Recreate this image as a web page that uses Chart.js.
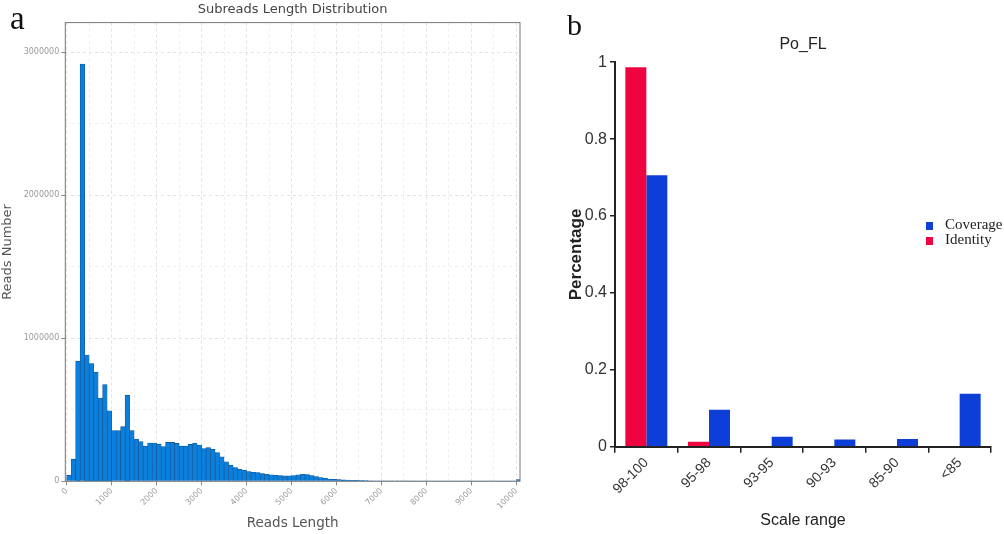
<!DOCTYPE html>
<html>
<head>
<meta charset="utf-8">
<title>Subreads length / Po_FL</title>
<script src="https://cdn.jsdelivr.net/npm/chart.js@4.4.1/dist/chart.umd.min.js"></script>
<style>
    html, body { margin: 0; padding: 0; background: #fff; }
    #page { position: relative; width: 1004px; height: 534px; overflow: hidden; }
    canvas { position: absolute; top: 0; }
    #lengthChart { left: 0; }
    #scaleChart { left: 540px; }
    .tag { position: absolute; font-family: 'Liberation Serif', 'DejaVu Serif', serif; line-height: 1; color: #111; }
    .legend-row { position: absolute; font-family: 'Liberation Serif', serif; font-size: 15px; line-height: 15px; color: #222; white-space: nowrap; }
    .legend-row span { display: inline-block; width: 7px; height: 8px; margin-right: 12px; vertical-align: -1px; }
</style>
</head>
<body>
<div id="page">
    <canvas id="lengthChart" width="540" height="534"></canvas>
    <canvas id="scaleChart" width="464" height="534"></canvas>
    <div class="tag" style="left:10px; top:2px; font-size:33px;">a</div>
    <div class="tag" style="left:567px; top:10px; font-size:30px;">b</div>
    <div class="legend-row" style="left:926px; top:217px;"><span style="background:#0d3fd8"></span>Coverage</div>
    <div class="legend-row" style="left:926px; top:232px;"><span style="background:#f0043f"></span>Identity</div>
</div>
<script>
// ---- panel a: subreads length histogram (bins of 100 bp) ----
const BIN_WIDTH = 100;
const readCounts = [
    42000, 155000, 840000, 2918000, 883000, 824000, 763000, 582000, 676000, 493000,
    354000, 354000, 383000, 601000, 354000, 296000, 277000, 246000, 268000, 268000,
    260000, 242000, 272000, 272000, 265000, 246000, 246000, 258000, 268000, 254000,
    228000, 235000, 223000, 200000, 171000, 136000, 113000, 96000, 85000, 77000,
    68000, 63000, 61000, 54000, 49000, 45000, 42000, 40000, 38000, 38000,
    40000, 45000, 49000, 47000, 40000, 33000, 26000, 21000, 16000, 14000,
    12000, 10000, 8500, 7000, 6000, 5200, 4500, 4000, 3500, 3000,
    2700, 2400, 2100, 1900, 1700, 1500, 1400, 1300, 1200, 1100,
    1000, 950, 900, 850, 800, 750, 700, 650, 600, 580,
    560, 540, 520, 500, 480, 450, 420, 400, 380, 350,
    12000
];
const lengthTicks = [0, 1000, 2000, 3000, 4000, 5000, 6000, 7000, 8000, 9000, 10000];
const countTicks = [0, 1000000, 2000000, 3000000];

// ---- panel b: Po_FL identity / coverage ----
const scaleRanges = ['98-100', '95-98', '93-95', '90-93', '85-90', '<85'];
const identityShare = [0.987, 0.013, 0, 0, 0, 0];
const coverageShare = [0.706, 0.096, 0.026, 0.019, 0.020, 0.138];
const shareTicks = [0, 0.2, 0.4, 0.6, 0.8, 1];

// major ticks plus the minor (unlabelled) gridline half way between each pair
function withMinor(major, max) {
    const out = [];
    major.forEach((v, i) => {
        out.push({ value: v, major: true });
        const step = i + 1 < major.length ? major[i + 1] - v : v - major[i - 1];
        if (v + step / 2 <= max) out.push({ value: v + step / 2, major: false });
    });
    return out;
}

// grey frame round the plot, like the ggplot panel border
const frameBox = {
    id: 'frameBox',
    afterDatasetsDraw(chart) {
        const { ctx, chartArea: a } = chart;
        ctx.save();
        ctx.strokeStyle = '#777';
        ctx.lineWidth = 1;
        ctx.strokeRect(a.left, a.top, a.right - a.left, a.bottom - a.top);
        ctx.restore();
    }
};

const greyFont = { family: "'DejaVu Sans', sans-serif", size: 8 };
const isMajor = c => c.tick && c.tick.major;

new Chart(document.getElementById('lengthChart'), {
    type: 'bar',
    data: {
        datasets: [{
            label: 'Reads Number',
            data: readCounts.map((c, i) => ({ x: i * BIN_WIDTH + BIN_WIDTH / 2, y: c })),
            backgroundColor: '#0b7fdc',
            borderColor: '#0d4f90',
            borderWidth: 0.6,
            barPercentage: 1,
            categoryPercentage: 1
        }]
    },
    options: {
        responsive: false,
        animation: false,
        layout: { padding: { left: 0, right: 20, top: 0, bottom: 0 } },
        plugins: {
            legend: { display: false },
            tooltip: { enabled: false },
            title: {
                display: true,
                fullSize: false,
                text: 'Subreads Length Distribution',
                color: '#444',
                font: { family: "'DejaVu Sans', sans-serif", size: 13, weight: 'normal' },
                padding: { top: 2, bottom: 5 }
            }
        },
        scales: {
            x: {
                type: 'linear',
                offset: false,
                min: -30,
                max: 10080,
                afterBuildTicks: s => { s.ticks = withMinor(lengthTicks, 10080); },
                afterFit: s => { s.height = 52.7; },
                ticks: {
                    autoSkip: false,
                    maxRotation: 45,
                    minRotation: 45,
                    padding: 1,
                    color: '#9a9a9a',
                    font: greyFont,
                    callback: function (v, i, ticks) { return ticks[i].major ? String(v) : ''; }
                },
                grid: {
                    offset: false,
                    color: c => (isMajor(c) ? '#e2e2e2' : '#efefef'),
                    tickColor: c => (isMajor(c) ? '#888' : 'rgba(0,0,0,0)'),
                    tickLength: 4
                },
                border: { display: false, dash: [3, 3] },
                title: {
                    display: true,
                    text: 'Reads Length',
                    color: '#555',
                    font: { family: "'DejaVu Sans', sans-serif", size: 13.5 },
                    padding: { top: 0, bottom: 2 }
                }
            },
            y: {
                min: 0,
                max: 3208000,
                afterBuildTicks: s => { s.ticks = withMinor(countTicks, 3208000); },
                afterFit: s => { s.width = 65.3; },
                ticks: {
                    autoSkip: false,
                    padding: 2,
                    color: '#9a9a9a',
                    font: greyFont,
                    callback: function (v, i, ticks) { return ticks[i].major ? String(v) : ''; }
                },
                grid: {
                    color: c => (isMajor(c) ? '#e2e2e2' : '#efefef'),
                    tickColor: c => (isMajor(c) ? '#888' : 'rgba(0,0,0,0)'),
                    tickLength: 4
                },
                border: { display: false, dash: [3, 3] },
                title: {
                    display: true,
                    text: 'Reads Number',
                    color: '#555',
                    font: { family: "'DejaVu Sans', sans-serif", size: 13 },
                    padding: { top: 0, bottom: 0 }
                }
            }
        }
    },
    plugins: [frameBox]
});

const narrowFont = "'Liberation Sans Narrow', 'Liberation Sans', Arial, sans-serif";

new Chart(document.getElementById('scaleChart'), {
    type: 'bar',
    data: {
        labels: scaleRanges,
        datasets: [{
            label: 'Identity',
            data: identityShare,
            backgroundColor: '#f0043f',
            barPercentage: 1,
            categoryPercentage: 0.67
        }, {
            label: 'Coverage',
            data: coverageShare,
            backgroundColor: '#0d3fd8',
            barPercentage: 1,
            categoryPercentage: 0.67
        }]
    },
    options: {
        responsive: false,
        animation: false,
        layout: { padding: { left: 26, right: 13, top: 0, bottom: 0 } },
        plugins: {
            legend: { display: false },
            tooltip: { enabled: false },
            title: {
                display: true,
                fullSize: false,
                text: 'Po_FL',
                color: '#222',
                font: { family: narrowFont, size: 16, weight: 'normal' },
                padding: { top: 35, bottom: 8 }
            }
        },
        scales: {
            x: {
                afterFit: s => { s.height = 87.3; },
                ticks: {
                    maxRotation: 45,
                    minRotation: 45,
                    padding: 2,
                    color: '#333',
                    font: { family: narrowFont, size: 14 }
                },
                grid: { offset: true, drawOnChartArea: false, color: '#222', lineWidth: 1.5, tickLength: 6 },
                border: { color: '#222', width: 2 },
                title: {
                    display: true,
                    text: 'Scale range',
                    color: '#222',
                    font: { family: narrowFont, size: 16 },
                    padding: { top: 0, bottom: 4 }
                }
            },
            y: {
                min: 0,
                max: 1,
                afterBuildTicks: s => { s.ticks = shareTicks.map(v => ({ value: v })); },
                afterFit: s => { s.width = 49; },
                ticks: {
                    padding: 3,
                    color: '#333',
                    font: { family: narrowFont, size: 16 },
                    callback: v => String(v)
                },
                grid: { drawOnChartArea: false, color: '#222', lineWidth: 1.5, tickLength: 5 },
                border: { color: '#222', width: 2 },
                title: {
                    display: true,
                    text: 'Percentage',
                    color: '#222',
                    font: { family: "'Liberation Sans', Arial, sans-serif", size: 17, weight: 'bold' },
                    padding: { top: 0, bottom: 0 }
                }
            }
        }
    }
});
</script>
</body>
</html>
